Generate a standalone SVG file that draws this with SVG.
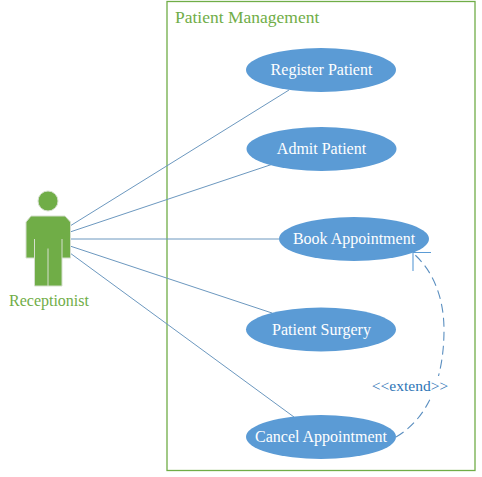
<svg xmlns="http://www.w3.org/2000/svg" width="482" height="477" viewBox="0 0 482 477">
<style>
text{font-family:"Liberation Serif","Times New Roman",serif}
.uc ellipse{fill:#5b9bd5}
.uc text{fill:#fff;font-size:16px;text-anchor:middle}
.green{fill:#70ad47}
.c line{stroke:#6c98bf;stroke-width:1;fill:none}
.slit{stroke:#d5dfce;stroke-width:1;fill:none}
</style>
<rect width="482" height="477" fill="#fff"/>
<g id="boundary">
<rect x="167" y="1.500" width="308" height="469" fill="none" stroke="#70ad47" stroke-width="1.300"/>
<text class="green" x="175" y="23" font-size="17.500">Patient Management</text>
</g>
<g id="connectors" class="c">
<line x1="70" y1="226" x2="289" y2="90"/>
<line x1="70" y1="232" x2="273" y2="164"/>
<line x1="70" y1="239" x2="279" y2="239"/>
<line x1="70" y1="246" x2="272" y2="313"/>
<line x1="70" y1="253" x2="294" y2="417"/>
<path d="M396 437C432 416 444 372 444 330C444 296 432 270 414 254" fill="none" stroke="#5b8fc0" stroke-width="1.100" stroke-dasharray="9 5"/>
<path d="M431 252.500H413V271" fill="none" stroke="#5b9bd5" stroke-width="1.100"/>
</g>
<g id="actor-receptionist">
<circle class="green" cx="48" cy="201" r="10" stroke="#d5dfce"/>
<path class="green" stroke="#d5dfce" d="M31 216H65L70.500 222V258H62V286H34.500V258H26V222Z"/>
<path class="slit" d="M48 248.500V286M34.500 239V258M62 239V258"/>
<text class="green" x="49" y="306" font-size="16" text-anchor="middle">Receptionist</text>
</g>
<g id="uc-register" class="uc"><ellipse cx="321" cy="70" rx="75" ry="22"/><text x="321.500" y="75">Register Patient</text></g>
<g id="uc-admit" class="uc"><ellipse cx="321.500" cy="149" rx="75" ry="22"/><text x="321.500" y="154">Admit Patient</text></g>
<g id="uc-book" class="uc"><ellipse cx="354" cy="239" rx="75" ry="22"/><text x="354" y="244">Book Appointment</text></g>
<g id="uc-surgery" class="uc"><ellipse cx="321" cy="329.500" rx="75" ry="22"/><text x="321.500" y="335">Patient Surgery</text></g>
<g id="uc-cancel" class="uc"><ellipse cx="321" cy="437" rx="75" ry="22"/><text x="321" y="442">Cancel Appointment</text></g>
<g id="label-extend">
<rect x="372" y="376" width="76" height="20" fill="#fff"/>
<text x="410" y="391" font-size="15.500" fill="#2e75b6" text-anchor="middle">&lt;&lt;extend&gt;&gt;</text>
</g>
</svg>
